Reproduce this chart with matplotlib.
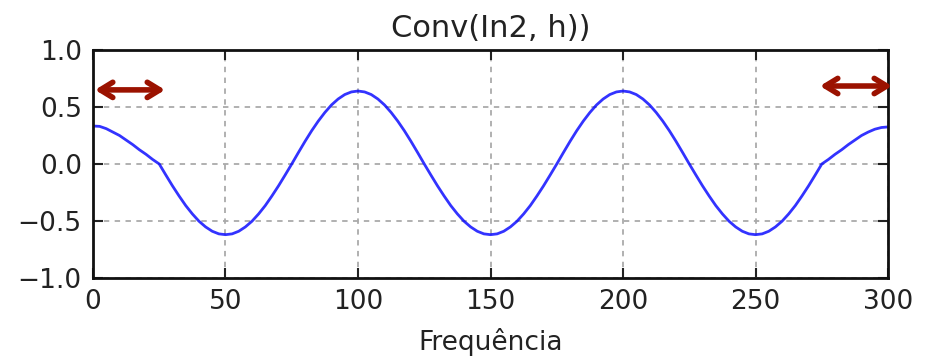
import matplotlib
matplotlib.use("Agg")
import matplotlib.pyplot as plt

freq = [i * 2.5 for i in range(121)]
conv = [
    # 0 .. 25
    0.333, 0.33, 0.31, 0.28, 0.25, 0.21, 0.17, 0.125, 0.085, 0.04, 0.0,
    # 27.5 .. 75
    -0.097, -0.192, -0.281, -0.365, -0.438, -0.502, -0.552, -0.590, -0.613,
    -0.62,
    -0.613, -0.590, -0.552, -0.502, -0.438, -0.365, -0.281, -0.192, -0.097,
    0.0,
    # 77.5 .. 125
    0.100, 0.198, 0.291, 0.376, 0.452, 0.518, 0.570, 0.609, 0.632,
    0.64,
    0.632, 0.609, 0.570, 0.518, 0.452, 0.376, 0.291, 0.198, 0.100,
    0.0,
    # 127.5 .. 175
    -0.097, -0.192, -0.281, -0.365, -0.438, -0.502, -0.552, -0.590, -0.613,
    -0.62,
    -0.613, -0.590, -0.552, -0.502, -0.438, -0.365, -0.281, -0.192, -0.097,
    0.0,
    # 177.5 .. 225
    0.100, 0.198, 0.291, 0.376, 0.452, 0.518, 0.570, 0.609, 0.632,
    0.64,
    0.632, 0.609, 0.570, 0.518, 0.452, 0.376, 0.291, 0.198, 0.100,
    0.0,
    # 227.5 .. 275
    -0.097, -0.192, -0.281, -0.365, -0.438, -0.502, -0.552, -0.590, -0.613,
    -0.62,
    -0.613, -0.590, -0.552, -0.502, -0.438, -0.365, -0.281, -0.192, -0.097,
    0.0,
    # 277.5 .. 300
    0.04, 0.085, 0.125, 0.17, 0.21, 0.25, 0.28, 0.305, 0.32, 0.325,
]

xticks = [0, 50, 100, 150, 200, 250, 300]
yticks = [-1.0, -0.5, 0.0, 0.5, 1.0]
ytick_labels = ['\u22121.0', '\u22120.5', '0.0', '0.5', '1.0']
arrow_left = ((0.75, 0.65), (27.2, 0.65))
arrow_right = ((274.3, 0.684), (301.5, 0.684))

fig = plt.figure(figsize=(9.27, 3.57), dpi=100)
ax = fig.add_axes([0.1003, 0.2213, 0.8577, 0.6387])
ax.plot(freq, conv, color='#0000ff', lw=2.0, alpha=0.8)
ax.set_xlim(0, 300)
ax.set_ylim(-1, 1)
ax.set_xticks(xticks)
ax.set_yticks(yticks)
ax.set_xticklabels([str(v) for v in xticks])
ax.set_yticklabels(ytick_labels)
ax.grid(True, color='#aaaaaa', linestyle=(0, (3, 3)), lw=1.3)
ax.tick_params(direction='in', length=7, width=1.5, labelsize=19, top=True, right=True, pad=8, colors='#222222')
for s in ax.spines.values():
    s.set_linewidth(2.0)
    s.set_color('#111111')
ax.set_title('Conv(In2, h))', fontsize=22, pad=9, color='#222222')
ax.set_xlabel('Frequência', fontsize=19, labelpad=9, color='#222222')

for (a, b) in (arrow_left, arrow_right):
    ax.annotate('', xy=b, xytext=a, annotation_clip=False,
                arrowprops=dict(arrowstyle='<->, head_length=0.9, head_width=0.55',
                                color='#9b1200', lw=4.0, shrinkA=0, shrinkB=0,
                                capstyle='round', joinstyle='round'))

fig.savefig('out.png', dpi=100)
